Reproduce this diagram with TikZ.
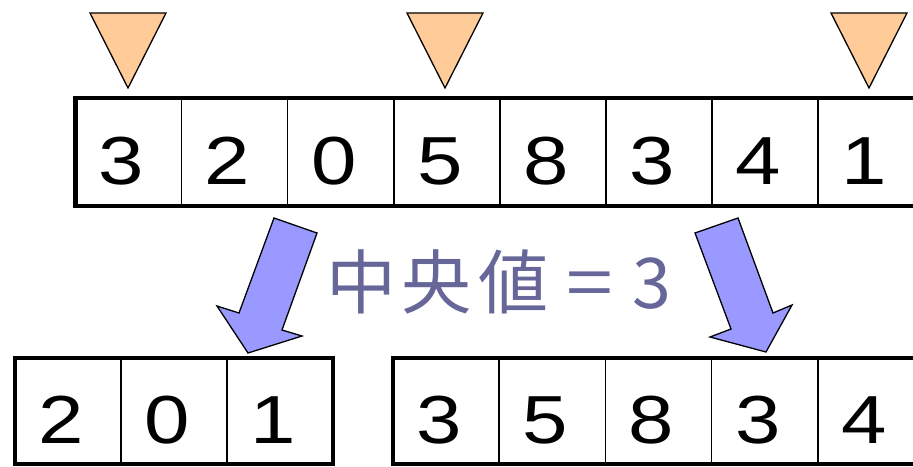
\documentclass[tikz,border=0pt]{standalone}
\usepackage{fontspec}
\setmainfont{Liberation Sans}
\newfontfamily\cjkfont{Noto Sans CJK JP}
\definecolor{trifill}{HTML}{FFCC99}
\definecolor{arrfill}{HTML}{9999FF}
\definecolor{medtext}{HTML}{666699}
\begin{document}
\begin{tikzpicture}[x=1pt,y=-1pt,
  cellbox/.style={draw, line width=1.5pt, outer sep=0pt, inner sep=0pt, minimum width=106.1pt, minimum height=108pt},
  cellboxb/.style={draw, line width=1.5pt, outer sep=0pt, inner sep=0pt, minimum width=106.1pt, minimum height=106pt},
  digit/.style={anchor=base, inner sep=0pt, font=\fontsize{68}{68}\selectfont, xscale=1.2},
  frame/.style={line width=4.5pt, line join=miter},
  pointer/.style={draw, line width=1.3pt, fill=trifill, line join=miter},
  blockarrow/.style={draw, line width=1.3pt, fill=arrfill, line join=miter},
  medlabel/.style={anchor=base west, inner sep=0pt, text=medtext, font=\cjkfont\fontsize{70}{70}\selectfont}]
\useasboundingbox (0,0) rectangle (913,466);
\clip (0,0) rectangle (913,466);
% top row
\foreach \v [count=\i] in {3,2,0,5,8,3,4,1} {
  \node[cellbox] (t\i) at ({75.5+106.1*(\i-0.5)},152) {};
  \node[digit] (td\i) at ([xshift=-7pt,yshift=-86pt]t\i.north) {\v};
}
\draw[frame] (t1.north west) rectangle (t8.south east);
% bottom left
\foreach \v [count=\i] in {2,0,1} {
  \node[cellboxb] (l\i) at ({15+106*(\i-0.5)},411) {};
  \node[digit] (ld\i) at ([xshift=-7pt,yshift=-85pt]l\i.north) {\v};
}
\draw[frame] (l1.north west) rectangle (l3.south east);
% bottom right
\foreach \v [count=\i] in {3,5,8,3,4} {
  \node[cellboxb] (r\i) at ({393+106.2*(\i-0.5)},411) {};
  \node[digit] (rd\i) at ([xshift=-7pt,yshift=-85pt]r\i.north) {\v};
}
\draw[frame] (r1.north west) rectangle (r5.south east);
% pointers
\draw[pointer] (90,13) -- (166,13) -- (128,88) -- cycle;
\draw[pointer] (407,13) -- (483,13) -- (445,88) -- cycle;
\draw[pointer] (831,13) -- (907,13) -- (869,88) -- cycle;
% block arrows
\draw[blockarrow] (274,218) -- (317,233) -- (282,330) -- (302,336) -- (248,353) -- (217,306) -- (239,313) -- cycle;
\draw[blockarrow] (695,233) -- (738,218) -- (773,313) -- (792,305) -- (766,352) -- (710,337) -- (731,329) -- cycle;
% label
\node[medlabel] (median) at (326,308) {中\hspace{5pt}央\hspace{7pt}値\hspace{18pt}\scalebox{1.2}[1]{=}\hspace{20pt}3};
\end{tikzpicture}
\end{document}
